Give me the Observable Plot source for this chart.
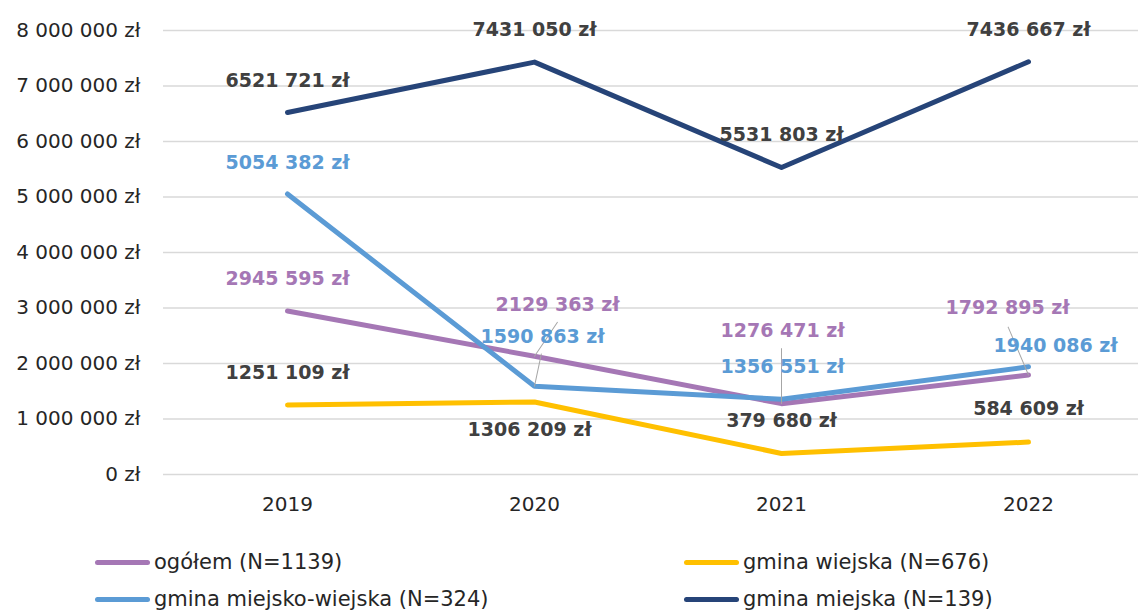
<!DOCTYPE html>
<html>
<head>
<meta charset="utf-8">
<script src="https://cdn.jsdelivr.net/npm/d3@7"></script>
<script src="https://cdn.jsdelivr.net/npm/@observablehq/plot@0.6"></script>
<style>
  body { margin: 0; background: #fff; font-family: "DejaVu Sans", sans-serif; }
  #chart { width: 1138px; }
  .legend { display: grid; grid-template-columns: 589px auto; row-gap: 13px; padding-left: 95px; margin-top: 30px; }
  .item { display: flex; align-items: center; font-size: 21px; color: #262626; white-space: nowrap; }
  .sw { width: 55px; height: 5px; border-radius: 3px; margin-right: 4px; }
</style>
</head>
<body>
<div id="chart"></div>
<script>
const years = ["2019", "2020", "2021", "2022"];
const seriesNames = ["ogółem (N=1139)", "gmina wiejska (N=676)", "gmina miejsko-wiejska (N=324)", "gmina miejska (N=139)"];
const ogolem = [2945595, 2129363, 1276471, 1792895];
const wiejska = [1251109, 1306209, 379680, 584609];
const miejskoWiejska = [5054382, 1590863, 1356551, 1940086];
const miejska = [6521721, 7431050, 5531803, 7436667];
const yTicks = [0, 1000000, 2000000, 3000000, 4000000, 5000000, 6000000, 7000000, 8000000];

// styles (not data)
const colors = ["#a577b5", "#ffc000", "#5b9bd5", "#264478"];
const labelColors = ["#a577b5", "#404040", "#5b9bd5", "#404040"];
// label pixel offsets [dx, dy] per series per year
const labelOffsets = [
  [[0, -32], [23, -51], [1, -73], [-21, -67]],
  [[0, -32], [-5, 28], [0, -33], [0, -33]],
  [[0, -31], [8, -49], [1, -32], [27, -21]],
  [[0, -32], [0, -32], [0, -33], [0, -32]]
];
// leader lines: [seriesIndex, yearIndex, length px, rotate deg]
const leaders = [[2, 1, 33, 12], [0, 1, 41, 34], [0, 2, 55, 0], [0, 3, 52, -23]];

const allSeries = [ogolem, wiejska, miejskoWiejska, miejska];
const rows = allSeries.flatMap((arr, s) => years.map((y, i) => ({ year: y, value: arr[i], series: seriesNames[s], s, i })));

const locale = d3.formatLocale({ decimal: ",", thousands: " ", grouping: [3], currency: ["", " zł"] });
const axisFmt = v => locale.format(",d")(v) + " zł";
const labelFmt = v => `${Math.floor(v / 1000)} ${String(v % 1000).padStart(3, "0")} zł`;

const lineShape = { draw(context, l) { context.moveTo(0, 0); context.lineTo(0, -l); } };

const labelMarks = rows.map(r => Plot.text([r], {
  x: "year", y: "value", text: d => labelFmt(d.value),
  dx: labelOffsets[r.s][r.i][0], dy: labelOffsets[r.s][r.i][1],
  fill: labelColors[r.s], fontWeight: "bold", fontSize: 19
}));

const leaderMarks = leaders.map(([s, i, len, rot]) => Plot.vector(
  rows.filter(r => r.s === s && r.i === i),
  { x: "year", y: "value", length: len, rotate: rot, anchor: "start", shape: lineShape, stroke: "#a6a6a6", strokeWidth: 1 }
));

const chart = Plot.plot({
  width: 1138,
  height: 520,
  marginLeft: 163,
  marginRight: 0,
  marginTop: 30,
  marginBottom: 46,
  style: { fontFamily: "DejaVu Sans, sans-serif", color: "#262626", background: "#fff" },
  x: { type: "point", domain: years, range: [287, 1028], padding: 0, label: null },
  y: { domain: [0, 8000000], label: null },
  color: { domain: seriesNames, range: colors },
  marks: [
    Plot.gridY(yTicks, { stroke: "#d9d9d9", strokeWidth: 1.5, strokeOpacity: 1 }),
    Plot.axisY(yTicks, { tickSize: 0, tickPadding: 23, tickFormat: axisFmt, fontSize: 20, label: null }),
    Plot.axisX({ tickSize: 0, tickPadding: 22, fontSize: 20, label: null }),
    Plot.line(rows, { x: "year", y: "value", z: "series", stroke: "series", strokeWidth: 5, strokeLinecap: "round", strokeLinejoin: "round" }),
    ...leaderMarks,
    ...labelMarks
  ]
});

const root = document.getElementById("chart");
root.appendChild(chart);

const legend = document.createElement("div");
legend.className = "legend";
[0, 1, 2, 3].forEach(s => {
  const item = document.createElement("div");
  item.className = "item";
  const sw = document.createElement("span");
  sw.className = "sw";
  sw.style.background = colors[s];
  const t = document.createElement("span");
  t.textContent = seriesNames[s];
  item.appendChild(sw);
  item.appendChild(t);
  legend.appendChild(item);
});
root.appendChild(legend);
</script>
</body>
</html>
